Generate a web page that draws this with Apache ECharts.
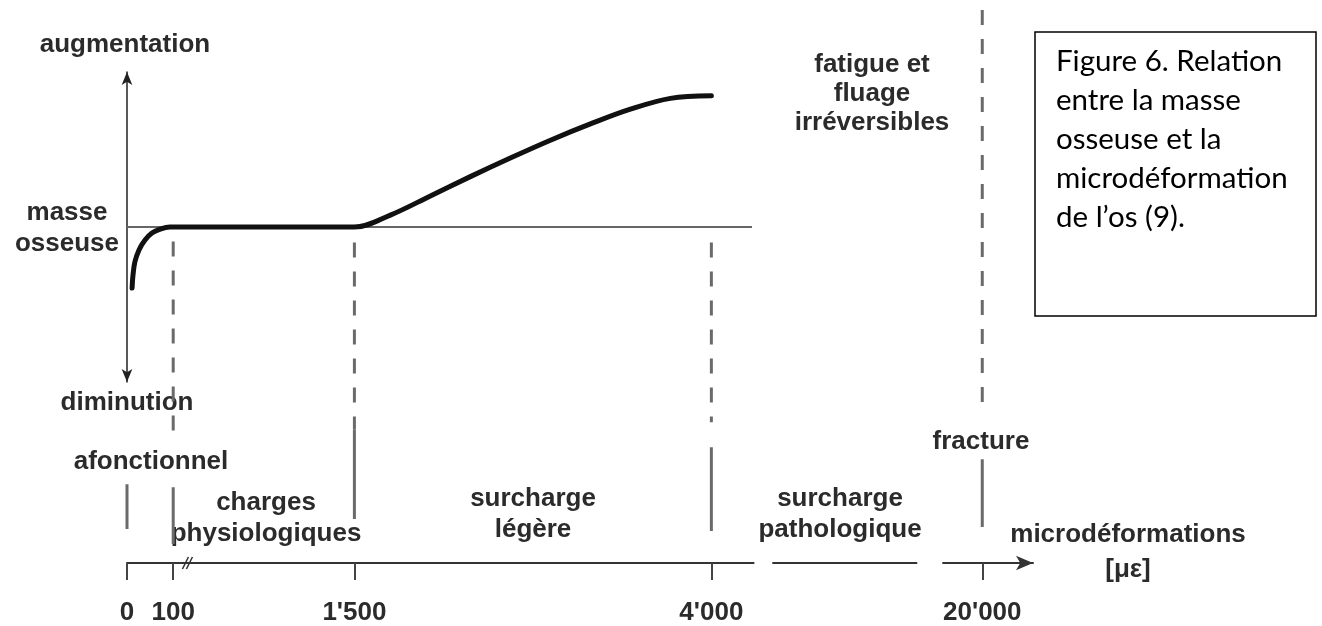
<!DOCTYPE html>
<html>
<head>
<meta charset="utf-8">
<script src="https://cdn.jsdelivr.net/npm/echarts@6/dist/echarts.min.js"></script>
<style>
  html, body { margin: 0; background: #fff; }
  #chart { width: 1322px; height: 626px; }
</style>
</head>
<body>
<div id="chart"></div>
<script>
// strain thresholds on the bottom axis (µε) and their labels
const strainTicks = [0, 100, 1500, 4000, 20000];
const tickLabels = ['0', '100', "1'500", "4'000", "20'000"];
// schematic axis, not to scale: where each threshold sits along it (0..1)
const tickSlots = [0, 0.051, 0.251, 0.645, 0.944];

// bone mass response: [strain, change], 0 = steady bone mass
const boneMass = [
    [11, -0.394], [13, -0.31], [17, -0.226], [26, -0.148], [39, -0.084], [54, -0.039],
    [72, -0.013], [93, 0], [400, 0], [1000, 0], [1500, 0],
    [1752, 0.077], [2032, 0.2], [2312, 0.325], [2592, 0.445], [2873, 0.56],
    [3153, 0.665], [3433, 0.76], [3713, 0.83], [4000, 0.846]
];
const baseline = [[0, 0], [6400, 0]];
// breaks drawn in the strain axis
const axisGaps = [[6540, 7600], [16160, 17640]];

// map a strain value to its place on the schematic axis
function xPos(s) {
    for (let i = 1; i < strainTicks.length; i++) {
        if (s <= strainTicks[i] || i === strainTicks.length - 1) {
            const a = strainTicks[i - 1], b = strainTicks[i];
            return tickSlots[i - 1] + (s - a) / (b - a) * (tickSlots[i] - tickSlots[i - 1]);
        }
    }
}

const chart = echarts.init(document.getElementById('chart'));
const font = 'Liberation Sans, Arial, sans-serif';
const txt = { fontFamily: font, fontSize: 26, fontWeight: 'bold', fill: '#2b2b2b', align: 'center', verticalAlign: 'middle' };

// threshold lines: index into strainTicks, span in px above the strain axis
const thresholdLines = [
    { i: 0, from: 34, to: 79, dashed: false },
    { i: 1, from: 131, to: 322, dashed: true },
    { i: 1, from: 19, to: 76, dashed: false },
    { i: 2, from: 134, to: 321, dashed: true },
    { i: 2, from: 44, to: 134, dashed: false },
    { i: 3, from: 141, to: 321, dashed: true },
    { i: 3, from: 32, to: 116, dashed: false },
    { i: 4, from: 159, to: 554, dashed: true },
    { i: 4, from: 36, to: 104, dashed: false }
];

const labels = [
    { text: 'augmentation', x: 125, y: 45 },
    { text: 'masse\nosseuse', x: 67, y: 228 },
    { text: 'diminution', x: 127, y: 403 },
    { text: 'afonctionnel', x: 151, y: 462 },
    { text: 'charges\nphysiologiques', x: 266, y: 518 },
    { text: 'surcharge\nlégère', x: 533, y: 514 },
    { text: 'surcharge\npathologique', x: 840, y: 514 },
    { text: 'fracture', x: 981, y: 442 },
    { text: 'microdéformations\n[με]', x: 1128, y: 552, lh: 35 },
    { text: 'fatigue et\nfluage\nirréversibles', x: 872, y: 94, lh: 29 }
];

const option = {
    backgroundColor: '#fff',
    animation: false,
    grid: [
        { left: 127, right: 289, top: 72, height: 310 },
        { left: 127, right: 289, top: 0, bottom: 62 }
    ],
    xAxis: [
        { gridIndex: 0, type: 'value', min: 0, max: 1, show: false },
        {
            gridIndex: 1, type: 'value', min: 0, max: 1,
            splitLine: { show: false },
            axisLine: { lineStyle: { color: '#333', width: 2 }, symbol: ['none', 'arrow'], symbolSize: [11, 17] },
            axisTick: { customValues: strainTicks.map(xPos), length: 17, lineStyle: { color: '#444', width: 2 } },
            axisLabel: {
                customValues: strainTicks.map(xPos),
                margin: 37,
                fontFamily: font, fontSize: 26, fontWeight: 'bold', color: '#2b2b2b',
                formatter: v => {
                    let k = 0;
                    tickSlots.forEach((p, j) => { if (Math.abs(p - v) < Math.abs(tickSlots[k] - v)) k = j; });
                    return tickLabels[k];
                }
            }
        }
    ],
    yAxis: [
        {
            gridIndex: 0, type: 'value', min: -1, max: 1,
            axisLine: { show: true, lineStyle: { color: '#222', width: 1.5 }, symbol: ['arrow', 'arrow'], symbolSize: [8, 13] },
            axisTick: { show: false }, axisLabel: { show: false }, splitLine: { show: false }
        },
        { gridIndex: 1, type: 'value', min: 0, max: 564, show: false }
    ],
    series: [
        {
            type: 'line', xAxisIndex: 0, yAxisIndex: 0,
            data: baseline.map(d => [xPos(d[0]), d[1]]),
            symbol: 'none', lineStyle: { color: '#666', width: 2 }
        },
        {
            type: 'line', xAxisIndex: 0, yAxisIndex: 0, smooth: 0.35,
            data: boneMass.map(d => [xPos(d[0]), d[1]]),
            symbol: 'none', lineStyle: { color: '#111', width: 5, cap: 'round' }, z: 5
        },
        ...thresholdLines.map(t => ({
            type: 'line', xAxisIndex: 1, yAxisIndex: 1,
            data: [[xPos(strainTicks[t.i]), t.to], [xPos(strainTicks[t.i]), t.from]],
            symbol: 'none',
            lineStyle: { color: '#6a6a6a', width: 3, type: t.dashed ? [15, 14] : 'solid' }
        }))
    ],
    graphic: [
        ...labels.map(l => ({
            type: 'text', x: l.x, y: l.y,
            style: Object.assign({}, txt, { text: l.text, lineHeight: l.lh || 31 })
        })),
        {
            type: 'rect', shape: { x: 1035, y: 32, width: 281, height: 284 },
            style: { fill: 'none', stroke: '#000', lineWidth: 1.5 }
        },
        {
            type: 'text', x: 1056, y: 42,
            style: {
                text: 'Figure 6. Relation\nentre la masse\nosseuse et la\nmicrodéformation\nde l’os (9).',
                fontFamily: 'Lato, Open Sans, sans-serif', fontSize: 29.5, lineHeight: 39,
                fill: '#000', verticalAlign: 'top'
            }
        }
    ]
};
chart.setOption(option);

// breaks in the strain axis and the small cut mark after 100
const extra = axisGaps.map(g => {
    const a = chart.convertToPixel({ gridIndex: 1 }, [xPos(g[0]), 0]);
    const b = chart.convertToPixel({ gridIndex: 1 }, [xPos(g[1]), 0]);
    return { type: 'rect', z: 100, shape: { x: a[0], y: a[1] - 4, width: b[0] - a[0], height: 8 }, style: { fill: '#fff' } };
});
const cut = chart.convertToPixel({ gridIndex: 1 }, [xPos(210), 0]);
[-2, 2].forEach(dx => extra.push({
    type: 'line', z: 100,
    shape: { x1: cut[0] + dx - 3, y1: cut[1] + 6, x2: cut[0] + dx + 3, y2: cut[1] - 6 },
    style: { stroke: '#333', lineWidth: 1.5 }
}));
chart.setOption({ graphic: option.graphic.concat(extra) });
</script>
</body>
</html>
